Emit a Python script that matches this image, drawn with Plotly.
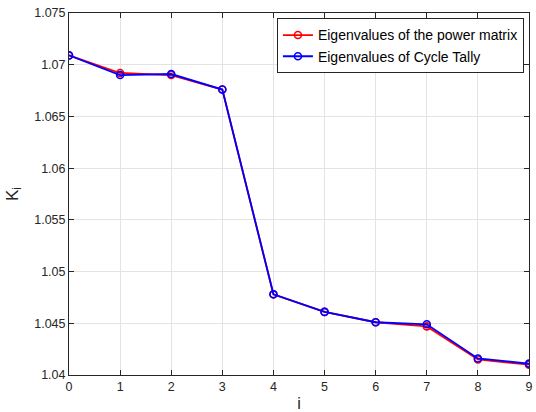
import plotly.graph_objects as go

# Mode index and eigenvalue estimates from the two methods
modes = [0, 1, 2, 3, 4, 5, 6, 7, 8, 9]
k_power_matrix = [1.0709, 1.0692, 1.0690, 1.0676, 1.0478, 1.0461, 1.0451, 1.0447, 1.0415, 1.0410]
k_cycle_tally = [1.0709, 1.0690, 1.0691, 1.0676, 1.0478, 1.0461, 1.0451, 1.0449, 1.0416, 1.0411]

x_ticks = list(range(0, 10))
y_ticks = [1.04, 1.045, 1.05, 1.055, 1.06, 1.065, 1.07, 1.075]
y_tick_text = ["1.04", "1.045", "1.05", "1.055", "1.06", "1.065", "1.07", "1.075"]

FONT = "Liberation Sans, Arial"
TEXT_COLOR = "#262626"

fig = go.Figure()
fig.add_trace(go.Scatter(
    x=modes, y=k_power_matrix, mode="lines+markers",
    name="Eigenvalues of the power matrix",
    line=dict(color="#ff0000", width=1.8),
    marker=dict(symbol="circle-open", size=7, color="#ff0000", line=dict(width=1.6)),
))
fig.add_trace(go.Scatter(
    x=modes, y=k_cycle_tally, mode="lines+markers",
    name="Eigenvalues of Cycle Tally",
    line=dict(color="#0000ff", width=1.8),
    marker=dict(symbol="circle-open", size=7, color="#0000ff", line=dict(width=1.6)),
))

axis_common = dict(
    showgrid=True, gridcolor="#e3e3e3", gridwidth=1,
    showline=True, linecolor=TEXT_COLOR, linewidth=1,
    mirror="allticks", ticks="inside", ticklen=5, tickcolor=TEXT_COLOR,
    zeroline=False, ticklabeloverflow="allow",
    tickfont=dict(family=FONT, size=12.5, color=TEXT_COLOR),
)

fig.update_xaxes(
    range=[0, 9], tickvals=x_ticks,
    title=dict(text="i", font=dict(family=FONT, size=16, color=TEXT_COLOR), standoff=4),
    **axis_common,
)
fig.update_yaxes(
    range=[1.04, 1.075], tickvals=y_ticks, ticktext=y_tick_text,
    title=dict(text="K<sub>i</sub>", font=dict(family=FONT, size=17, color=TEXT_COLOR), standoff=11),
    **axis_common,
)

fig.update_layout(
    width=536, height=412,
    margin=dict(l=69, r=3, t=13, b=33),
    paper_bgcolor="white", plot_bgcolor="white",
    showlegend=True,
    legend=dict(
        x=0.452, y=0.985, xanchor="left", yanchor="top",
        bgcolor="white", bordercolor=TEXT_COLOR, borderwidth=1,
        font=dict(family=FONT, size=14, color="#000000"),
        tracegroupgap=0, itemwidth=30,
    ),
)

fig.write_html("out.html")
